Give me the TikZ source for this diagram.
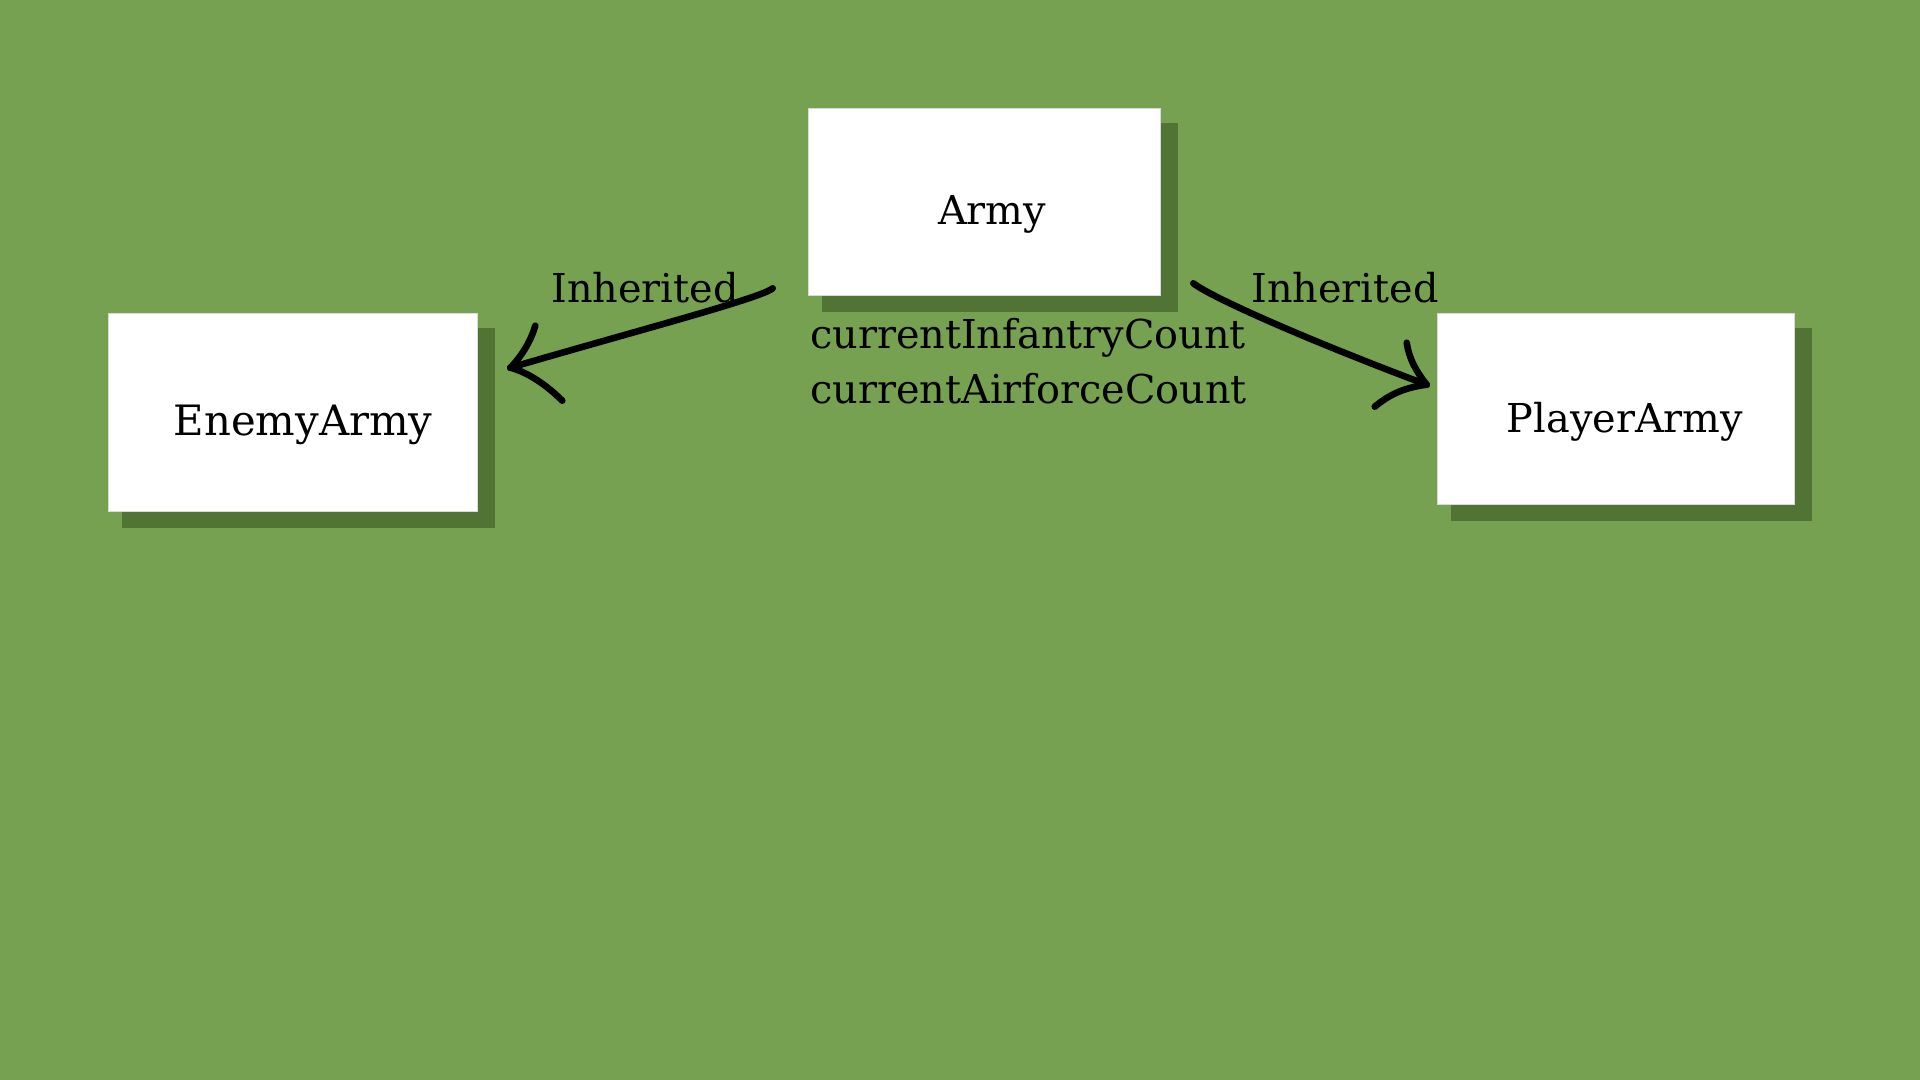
\documentclass[tikz,border=0pt]{standalone}
\usepackage{fontspec}
\setmainfont{DejaVu Serif}
\usepackage{tikz}
\usetikzlibrary{positioning, shadows}
\definecolor{fieldgreen}{RGB}{118,161,80}
\definecolor{shadegreen}{RGB}{81,116,52}

\begin{document}
\begin{tikzpicture}[x=0.5pt, y=-0.5pt,
    classbox/.style={rectangle, fill=white, draw=black!15, line width=0.3pt, inner sep=0pt,
        general shadow={fill=shadegreen, shadow xshift=8pt, shadow yshift=-8pt, shadow scale=1.01}},
    classname/.style={anchor=base, inner sep=0pt, font=\fontsize{19.9}{27.5}\selectfont},
    plain/.style={inner sep=0pt, font=\fontsize{19.9}{27.5}\selectfont},
    sketch/.style={line width=3.3pt, line cap=round, line join=round}]
    \fill[fieldgreen] (0,0) rectangle (1920,1080);
    \useasboundingbox (0,0) rectangle (1920,1080);

    \node[classbox, minimum width=176pt, minimum height=93.5pt] (army) at (984,201.5) {};
    \node[classbox, minimum width=184.5pt, minimum height=99pt] (enemy) at (292.5,412) {};
    \node[classbox, minimum width=178.5pt, minimum height=95.5pt] (player) at (1615.5,408.5) {};

    \node[classname] (armyname) at ([shift={(8,23.5)}]army.center) {Army};
    \node[classname, font=\fontsize{20.9}{27.5}\selectfont] (enemyname) at ([shift={(10.5,23)}]enemy.center) {EnemyArmy};
    \node[classname] (playername) at ([shift={(9.5,23.5)}]player.center) {PlayerArmy};

    \node[plain, anchor=base west, align=left] (fields) at ([shift={(2,108)}]army.south west)
        {currentInfantryCount\\currentAirforceCount};

    \coordinate (lstart) at ([shift={(-35,-7)}]army.south west);
    \coordinate (ltip) at ([shift={(33,55)}]enemy.north east);
    \coordinate (rstart) at ([shift={(33,-12)}]army.south east);
    \coordinate (rtip) at ([shift={(-10,72)}]player.north west);

    \draw[sketch] (lstart) .. controls +(-12,10) and +(130,-38) .. (ltip);
    \draw[sketch] (ltip) .. controls +(12,-12) and +(-4,14) .. +(25,-42);
    \draw[sketch] (ltip) .. controls +(20,5) and +(-12,-12) .. +(52,33);
    \draw[sketch] (rstart) .. controls +(18,14) and +(-120,-45) .. (rtip);
    \draw[sketch] (rtip) .. controls +(-12,-15) and +(2,14) .. +(-20,-42);
    \draw[sketch] (rtip) .. controls +(-25,3) and +(12,-10) .. +(-52,22);

    \node[plain, anchor=base west] (linh) at (551,303) {Inherited};
    \node[plain, anchor=base west] (rinh) at (1251,303) {Inherited};
\end{tikzpicture}
\end{document}
